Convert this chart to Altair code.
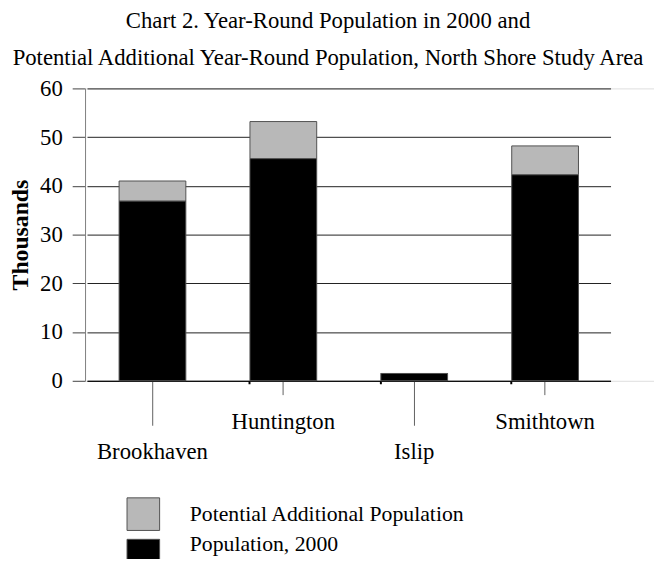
import altair as alt
import pandas as pd

towns = ["Brookhaven", "Huntington", "Islip", "Smithtown"]
pop2000 = [36.9, 45.6, 1.5, 42.3]
additional = [4.1, 7.6, 0.0, 5.9]
series = ["Population, 2000", "Potential Additional Population"]
legend_order = ["Potential Additional Population", "Population, 2000"]
colors = ["#b8b8b8", "#000000"]

rows = []
for t, p, a in zip(towns, pop2000, additional):
    rows.append({"town": t, "series": series[0], "value": p, "ord": 0})
    rows.append({"town": t, "series": series[1], "value": a, "ord": 1})
df = pd.DataFrame(rows)

FONT = "Liberation Serif"
low = "datum.value == 'Brookhaven' || datum.value == 'Islip'"
xscale = alt.Scale(range=[2, 532], paddingInner=0.49, paddingOuter=0.245)

bars = alt.Chart(df).mark_bar(stroke="#505050", strokeWidth=1).encode(
    x=alt.X("town:N", sort=towns, scale=xscale,
            axis=alt.Axis(title=None, labelAngle=0, grid=False, orient="bottom",
                          domainColor="#000000", domainWidth=1,
                          tickColor="#606060", tickWidth=1,
                          tickSize={"condition": {"test": low, "value": 45}, "value": 14},
                          labelPadding=16,
                          labelFont=FONT, labelFontSize=23, labelColor="#000000",
                          labelBaseline="top")),
    y=alt.Y("value:Q", stack="zero",
            scale=alt.Scale(domain=[0, 60], nice=False),
            axis=alt.Axis(title="Thousands", values=[0, 10, 20, 30, 40, 50, 60],
                          grid=True, gridColor="#202020", gridWidth=1,
                          domainColor="#808080", domainWidth=1,
                          tickColor="#404040", tickSize=13, tickWidth=1,
                          labelPadding=10, labelFont=FONT, labelFontSize=23,
                          labelColor="#000000",
                          titleFont=FONT, titleFontSize=24, titleFontWeight="bold",
                          titleColor="#000000", titlePadding=7)),
    color=alt.Color("series:N",
                    scale=alt.Scale(domain=legend_order, range=colors),
                    legend=alt.Legend(title=None, orient="none", legendX=42, legendY=414,
                                      symbolType="square", symbolSize=1089,
                                      symbolStrokeColor="#505050", symbolStrokeWidth=1,
                                      labelFont=FONT, labelFontSize=22, labelColor="#000000",
                                      labelBaseline=alt.ExprRef("datum.index == 1 ? 'bottom' : 'middle'"),
                                      labelOffset=30, rowPadding=0, padding=0,
                                      labelLimit=400)),
    order=alt.Order("ord:Q", sort="ascending"),
)

# small tick marks at the boundaries between categories
edges = alt.Chart(df).mark_bar(opacity=0).encode(
    x=alt.X("town:N", sort=towns, scale=xscale,
            axis=alt.Axis(title=None, orient="bottom", bandPosition=0, values=towns[1:],
                          labels=False, domain=False, grid=False,
                          tickSize=3, tickWidth=2, tickColor="#000000")),
)

chart = alt.layer(bars, edges).resolve_axis(x="independent").properties(
    width=576, height=296,
    autosize=alt.AutoSizeParams(type="none"),
    padding={"left": 78, "top": 78, "right": 0, "bottom": 177},
    title=alt.TitleParams(
        text=["Chart 2. Year-Round Population in 2000 and",
              "Potential Additional Year-Round Population, North Shore Study Area"],
        font=FONT, fontSize=23, fontWeight="normal", color="#000000",
        lineHeight=37, anchor="middle", dx=-42, offset=8),
).configure_view(stroke=None).configure(background="white")

chart.save("out.html", embed_options={"renderer": "svg", "actions": False})
